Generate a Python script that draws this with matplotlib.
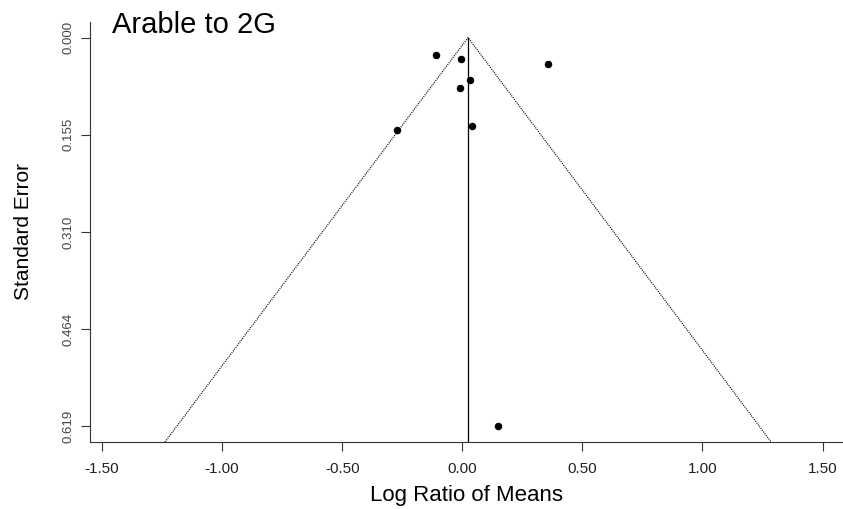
"""
Funnel plot: Arable to 2G (log ratio of means vs standard error).
"""
import matplotlib
matplotlib.use("Agg")
import matplotlib.pyplot as plt

plt.rcParams["font.family"] = ["Liberation Sans", "DejaVu Sans"]

# study estimates
log_ratio = [-0.110, -0.006, 0.356, 0.031, -0.010, -0.273, 0.040, 0.148]
std_err = [0.027, 0.034, 0.042, 0.067, 0.081, 0.147, 0.140, 0.619]
pooled = 0.024

y_ticks = [0.0, 0.15475, 0.3095, 0.46425, 0.619]
y_labels = ["0.000", "0.155", "0.310", "0.464", "0.619"]
x_ticks = [-1.5, -1.0, -0.5, 0.0, 0.5, 1.0, 1.5]
x_labels = ["-1.50", "-1.00", "-0.50", "0.00", "0.50", "1.00", "1.50"]


def main():
    fig = plt.figure(figsize=(8.43, 5.09), dpi=100)
    ax = fig.add_axes([90 / 843, (509 - 442) / 509, 1 - 90 / 843, (442 - 22) / 509])

    se_max = max(std_err)
    pad = 0.04 * se_max
    y_bot = se_max + pad
    ax.set_ylim(y_bot, -pad)
    ax.set_xlim(-1.55, 1.585)

    # pseudo confidence region
    z = 1.96
    ax.plot([pooled - z * y_bot, pooled, pooled + z * y_bot], [y_bot, 0, y_bot],
            color="black", lw=0.8, ls=(0, (1, 1)))
    ax.plot([pooled, pooled], [0, y_bot], color="black", lw=0.9)

    ax.plot(log_ratio, std_err, "o", color="black", ms=5.4, mew=0)

    ax.set_yticks(y_ticks)
    ax.set_yticklabels(y_labels, rotation=90, va="center", color="#444444", fontsize=9.5)
    ax.set_xticks(x_ticks)
    ax.set_xticklabels(x_labels, fontsize=11, color="#222222")
    ax.tick_params(axis="both", length=6.5, width=0.8, color="#333333")
    ax.tick_params(axis="y", pad=5)
    ax.tick_params(axis="x", pad=8)

    for side in ("top", "right"):
        ax.spines[side].set_visible(False)
    for side in ("left", "bottom"):
        ax.spines[side].set_linewidth(0.8)
        ax.spines[side].set_color("#333333")

    fig.text(24 / 843, 1 - 231 / 509, "Standard Error", fontsize=15,
             rotation=90, ha="center", va="center")
    fig.text(466 / 843, 1 - 495 / 509, "Log Ratio of Means", fontsize=16,
             ha="center", va="center")
    fig.text(112 / 843, 1 - 25 / 509, "Arable to 2G", fontsize=21,
             ha="left", va="center")

    fig.savefig("out.png", dpi=100)


if __name__ == "__main__":
    main()
